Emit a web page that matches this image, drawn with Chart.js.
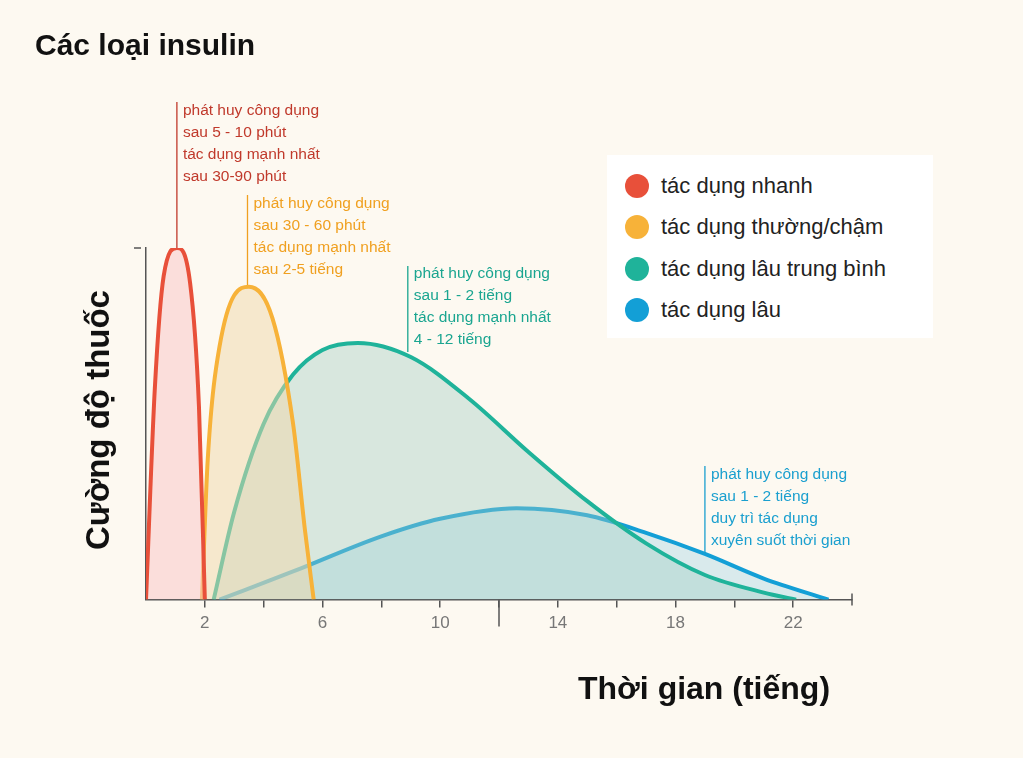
<!DOCTYPE html>
<html>
<head>
<meta charset="utf-8">
<script src="https://cdn.jsdelivr.net/npm/chart.js@4"></script>
<style>
  body { margin: 0; background: #fdf9f1; font-family: "Liberation Sans", Arial, sans-serif; }
  #wrap { position: relative; width: 1023px; height: 758px; }
  #title { position: absolute; left: 35px; top: 28px; font: bold 30px "Liberation Sans", Arial, sans-serif; color: #111; }
  #ytitle { position: absolute; left: 98px; top: 420px; transform: translate(-50%, -50%) rotate(-90deg); font: bold 33px "Liberation Sans", Arial, sans-serif; white-space: nowrap; color: #111; }
  #xtitle { position: absolute; left: 578px; top: 670px; font: bold 32px "Liberation Sans", Arial, sans-serif; color: #111; }
  #legend { position: absolute; left: 607px; top: 155px; width: 326px; height: 183px; background: #fff; box-sizing: border-box; padding: 10px 18px; }
  .item { display: flex; align-items: center; height: 41.5px; font-size: 22px; color: #222; }
  .dot { width: 24px; height: 24px; border-radius: 50%; margin-right: 12px; }
</style>
</head>
<body>
<div id="wrap">
  <canvas id="insulinChart" width="1023" height="758"></canvas>
  <div id="title">Các loại insulin</div>
  <div id="ytitle">Cường độ thuốc</div>
  <div id="xtitle">Thời gian (tiếng)</div>
  <div id="legend"></div>
</div>
<script>
// Data (hours, relative strength 0-100)
const names = ['tác dụng nhanh', 'tác dụng thường/chậm', 'tác dụng lâu trung bình', 'tác dụng lâu'];
const lineColors = ['#e8503a', '#f7b239', '#1fb39a', '#139fd6'];
const fillColors = ['rgba(250,200,200,0.55)', 'rgba(240,215,170,0.5)', 'rgba(160,205,195,0.4)', 'rgba(150,205,225,0.35)'];
const rapid = [[0, 0], [0.3, 60], [0.6, 92], [1.05, 100], [1.5, 90], [1.8, 55], [2.0, 0]];
const regular = [[1.9, 0], [2.1, 40], [2.5, 72], [3.5, 89], [4.3, 80], [5.0, 50], [5.4, 20], [5.7, 0]];
const intermediate = [[2.3, 0], [3, 25], [4, 50], [5, 64], [6, 71], [7.2, 73], [9, 69], [11, 57], [13, 42], [15, 28], [17, 16], [19, 7], [21, 2], [22.1, 0]];
const longActing = [[2.5, 0], [5, 8], [8, 18], [10, 23], [12.6, 26], [15, 24], [17, 19], [19, 13], [21, 6], [23.2, 0]];
const tickLabels = [2, 6, 10, 14, 18, 22];

// Notes: text lines, colour, x position (hours), top of text, pointer line from y1 to y2
const notes = [
  { lines: ['phát huy công dụng', 'sau 5 - 10 phút', 'tác dụng mạnh nhất', 'sau 30-90 phút'], color: '#c0392b', x: 1.05, top: 103, y1: 102, y2: 248 },
  { lines: ['phát huy công dụng', 'sau 30 - 60 phút', 'tác dụng mạnh nhất', 'sau 2-5 tiếng'], color: '#f0a020', x: 3.45, top: 196, y1: 195, y2: 285 },
  { lines: ['phát huy công dụng', 'sau 1 - 2 tiếng', 'tác dụng mạnh nhất', '4 - 12 tiếng'], color: '#1aa590', x: 8.9, top: 266, y1: 266, y2: 352 },
  { lines: ['phát huy công dụng', 'sau 1 - 2 tiếng', 'duy trì tác dụng', 'xuyên suốt thời gian'], color: '#1a9fcf', x: 19, top: 467, y1: 466, y2: 554 }
];

const series = [rapid, regular, intermediate, longActing];

document.getElementById('legend').innerHTML = names.map((n, i) =>
  `<div class="item"><span class="dot" style="background:${lineColors[i]}"></span>${n}</div>`).join('');

const notesPlugin = {
  id: 'notes',
  afterDraw(chart) {
    const ctx = chart.ctx;
    const xs = chart.scales.x;
    const ys = chart.scales.y;
    ctx.save();
    // long tick at 12h, end tick, top tick of y axis
    ctx.strokeStyle = '#555';
    ctx.lineWidth = 1.5;
    ctx.beginPath();
    ctx.moveTo(xs.getPixelForValue(12), ys.bottom);
    ctx.lineTo(xs.getPixelForValue(12), ys.bottom + 27);
    ctx.moveTo(xs.getPixelForValue(24), ys.bottom - 6);
    ctx.lineTo(xs.getPixelForValue(24), ys.bottom + 6);
    ctx.moveTo(ys.left - 4, ys.top);
    ctx.lineTo(ys.left + 3, ys.top);
    ctx.stroke();
    ctx.font = '15.5px "Liberation Sans", Arial, sans-serif';
    ctx.textBaseline = 'top';
    notes.forEach(n => {
      const px = xs.getPixelForValue(n.x);
      ctx.strokeStyle = n.color;
      ctx.lineWidth = 1.3;
      ctx.beginPath();
      ctx.moveTo(px, n.y1);
      ctx.lineTo(px, n.y2);
      ctx.stroke();
      ctx.fillStyle = n.color;
      n.lines.forEach((t, i) => ctx.fillText(t, px + 6, n.top + i * 22));
    });
    ctx.restore();
  }
};

new Chart(document.getElementById('insulinChart').getContext('2d'), {
  type: 'line',
  data: {
    datasets: series.map((s, i) => ({
      label: names[i],
      data: s.map(p => ({ x: p[0], y: p[1] })),
      borderColor: lineColors[i],
      backgroundColor: fillColors[i],
      fill: 'origin',
      tension: 0.4,
      cubicInterpolationMode: 'monotone',
      borderWidth: 4,
      pointRadius: 0
    }))
  },
  options: {
    responsive: false,
    animation: false,
    layout: { padding: { left: 138, right: 171, top: 248, bottom: 118 } },
    plugins: { legend: { display: false }, tooltip: { enabled: false } },
    scales: {
      x: {
        type: 'linear', min: 0, max: 24,
        border: { color: '#555', width: 1.5 },
        grid: { drawOnChartArea: false, tickLength: 8, color: ctx => (ctx.tick && ctx.tick.value > 0 && ctx.tick.value < 24 ? '#555' : 'rgba(0,0,0,0)'), lineWidth: 1.5 },
        ticks: {
          stepSize: 2, autoSkip: false, maxRotation: 0, padding: 6,
          color: '#777', font: { size: 17, family: 'Liberation Sans' },
          callback: v => (tickLabels.includes(v) ? v : '')
        }
      },
      y: {
        min: 0, max: 100,
        border: { color: '#555', width: 1.5 },
        grid: { display: false },
        ticks: { display: false }
      }
    }
  },
  plugins: [notesPlugin]
});
</script>
</body>
</html>
